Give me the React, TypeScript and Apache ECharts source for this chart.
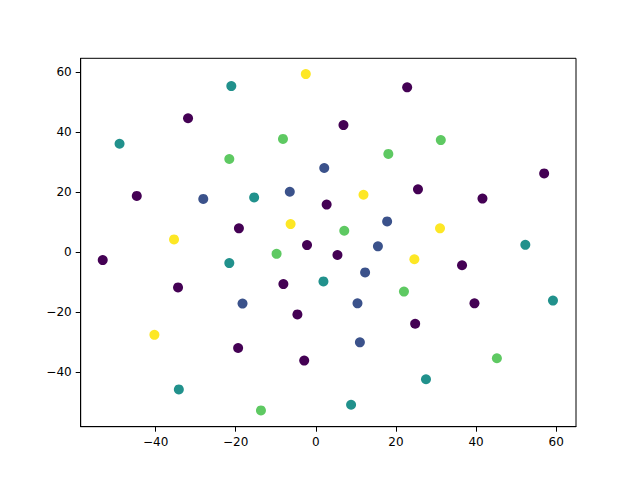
import React, { useEffect, useRef } from "react";
import * as echarts from "echarts";

const tickValues = [-40, -20, 0, 20, 40, 60];

const purplePts: [number, number][] = [
  [22.8, 55.0], [-31.9, 44.7], [6.9, 42.4], [-44.7, 18.8], [25.5, 21.0],
  [2.7, 15.9], [41.6, 17.9], [57.0, 26.3], [-19.2, 8.0], [-2.2, 2.4],
  [5.4, -0.9], [-53.2, -2.6], [36.5, -4.3], [-34.4, -11.7], [-8.1, -10.6],
  [-4.6, -20.7], [24.8, -23.8], [39.6, -17.0], [-19.4, -31.9], [-2.9, -36.1],
];
const bluePts: [number, number][] = [
  [2.1, 28.1], [-6.5, 20.2], [-28.1, 17.8], [17.8, 10.3], [15.5, 2.0],
  [12.3, -6.7], [-18.3, -17.1], [10.4, -17.0], [11.0, -30.0],
];
const tealPts: [number, number][] = [
  [-21.1, 55.4], [-49.0, 36.2], [-15.4, 18.3], [-21.6, -3.6], [1.9, -9.7],
  [52.3, 2.5], [59.2, -16.1], [-34.2, -45.7], [8.8, -50.8], [27.5, -42.3],
];
const greenPts: [number, number][] = [
  [-8.2, 37.8], [-21.6, 31.1], [18.1, 32.8], [31.2, 37.4], [7.1, 7.2],
  [-9.8, -0.5], [22.0, -13.1], [45.2, -35.3], [-13.7, -52.7],
];
const yellowPts: [number, number][] = [
  [-2.5, 59.4], [11.9, 19.2], [-6.3, 9.4], [-35.4, 4.3], [31.0, 8.0],
  [24.6, -2.3], [-40.3, -27.5],
];

const groups = [
  { name: "0", color: "#440154", data: purplePts },
  { name: "1", color: "#3b528b", data: bluePts },
  { name: "2", color: "#21918c", data: tealPts },
  { name: "3", color: "#5ec962", data: greenPts },
  { name: "4", color: "#fde725", data: yellowPts },
];

const font = "DejaVu Sans";

export default function App() {
  const ref = useRef<HTMLDivElement>(null);
  useEffect(() => {
    if (!ref.current) return;
    const chart = echarts.init(ref.current, null, { renderer: "svg" });
    const axisCommon = {
      type: "value" as const,
      splitLine: { show: false },
      axisLine: { show: true, onZero: false, lineStyle: { color: "#000", width: 1 } },
      axisTick: {
        show: true,
        length: 5,
        customValues: tickValues,
        lineStyle: { color: "#000", width: 1 },
      },
      axisLabel: {
        customValues: tickValues,
        color: "#000",
        fontFamily: font,
        fontSize: 12,
        margin: 9,
        formatter: (v: number) => (v < 0 ? "\u2212" + Math.abs(v) : String(v)),
      },
    };
    chart.setOption({
      animation: false,
      backgroundColor: "#fff",
      grid: {
        left: 80.7,
        right: 64,
        top: 58.3,
        bottom: 53.3,
        show: true,
        borderColor: "#000",
        borderWidth: 1,
        containLabel: false,
      },
      xAxis: { ...axisCommon, min: -58.7, max: 64.95 },
      yAxis: { ...axisCommon, min: -58.13, max: 64.67 },
      series: groups.map((g) => ({
        type: "scatter",
        name: g.name,
        data: g.data,
        symbol: "circle",
        symbolSize: 10,
        itemStyle: { color: g.color, opacity: 1 },
        emphasis: { disabled: true },
      })),
    });
    return () => chart.dispose();
  }, []);
  return (
    <div
      ref={ref}
      style={{ position: "fixed", left: 0, top: 0, width: 640, height: 480, background: "#fff" }}
    />
  );
}
